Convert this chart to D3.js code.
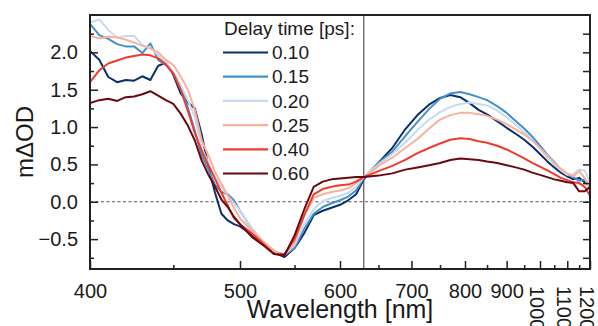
<!DOCTYPE html>
<html><head><meta charset="utf-8">
<script src="https://cdn.jsdelivr.net/npm/d3@7"></script>
<style>
body{margin:0;background:#fff}
svg{display:block}
text{font-family:Arial,"Liberation Sans",Helvetica,sans-serif;fill:#1a1a1a}
</style>
</head><body>
<svg id="chart" width="598" height="326"></svg>
<script>
// ---- data ----
const wavelengths = [400,405,410,415,420,425,430,435,440,445,450,455,460,465,470,475,480,485,490,495,500,
  510,520,530,540,550,560,570,580,590,600,610,620,630,640,650,
  670,690,710,730,750,770,790,810,830,850,
  875,900,925,950,975,1000,1025,1050,1075,1100,1125,1150,1175,1200];
const delays = ["0.10","0.15","0.20","0.25","0.40","0.60"];
const colors = ["#0b2f6b","#4490cb","#c6dbef","#fbb09a","#ee3b2c","#6a0812"];
const d010 = [2.02,1.90,1.67,1.60,1.63,1.62,1.68,1.63,1.82,1.86,1.70,1.45,1.33,1.25,0.90,0.47,0.12,-0.16,-0.25,-0.30,-0.33,
  -0.44,-0.57,-0.68,-0.74,-0.62,-0.42,-0.18,-0.12,-0.08,-0.04,0.02,0.10,0.30,0.42,0.52,
  0.72,0.97,1.16,1.30,1.39,1.43,1.40,1.32,1.23,1.17,
  1.08,0.99,0.91,0.83,0.74,0.64,0.54,0.46,0.39,0.34,0.30,0.32,0.26,0.22];
const d015 = [2.38,2.23,2.18,2.11,2.08,2.08,1.99,2.12,1.90,1.83,1.72,1.55,1.26,0.95,0.62,0.43,0.23,0.13,0.10,0.02,-0.12,
  -0.36,-0.55,-0.66,-0.71,-0.62,-0.36,-0.16,-0.07,-0.02,0.02,0.07,0.15,0.32,0.42,0.52,
  0.67,0.88,1.07,1.24,1.38,1.45,1.47,1.44,1.40,1.36,
  1.28,1.19,1.08,0.98,0.87,0.75,0.63,0.53,0.43,0.36,0.33,0.28,0.30,0.20];
const d020 = [2.40,2.44,2.30,2.20,2.22,2.22,2.10,2.06,1.96,1.87,1.73,1.56,1.36,1.14,0.72,0.52,0.33,0.20,0.08,-0.02,-0.12,
  -0.36,-0.53,-0.66,-0.71,-0.58,-0.30,-0.10,0.01,0.05,0.08,0.12,0.20,0.33,0.42,0.50,
  0.64,0.79,0.96,1.10,1.20,1.27,1.31,1.33,1.31,1.29,
  1.22,1.13,1.03,0.93,0.83,0.71,0.59,0.50,0.42,0.36,0.37,0.43,0.42,0.26];
const d025 = [2.22,2.19,2.21,2.20,2.17,2.13,2.09,2.05,2.00,1.90,1.83,1.68,1.50,1.23,0.82,0.62,0.40,0.24,0.08,-0.08,-0.22,
  -0.38,-0.53,-0.65,-0.71,-0.55,-0.18,0.05,0.10,0.13,0.15,0.18,0.25,0.33,0.40,0.48,
  0.59,0.72,0.84,0.98,1.10,1.16,1.19,1.19,1.17,1.15,
  1.10,1.04,0.97,0.90,0.82,0.72,0.62,0.52,0.44,0.38,0.34,0.41,0.32,0.18];
const d040 = [1.60,1.76,1.85,1.89,1.93,1.95,1.97,1.96,1.92,1.84,1.72,1.50,1.22,0.92,0.68,0.49,0.31,0.12,-0.05,-0.22,-0.30,
  -0.42,-0.56,-0.70,-0.70,-0.50,-0.18,0.10,0.17,0.20,0.22,0.23,0.27,0.33,0.37,0.41,
  0.48,0.56,0.65,0.72,0.78,0.83,0.85,0.84,0.81,0.79,
  0.75,0.70,0.64,0.58,0.52,0.47,0.42,0.37,0.32,0.29,0.26,0.25,0.20,0.08];
const d060 = [1.32,1.36,1.38,1.35,1.40,1.41,1.44,1.48,1.42,1.36,1.31,1.18,1.02,0.82,0.55,0.36,0.20,0.03,-0.07,-0.20,-0.30,
  -0.47,-0.58,-0.70,-0.72,-0.45,-0.10,0.20,0.27,0.30,0.31,0.32,0.33,0.33,0.34,0.35,
  0.38,0.43,0.46,0.49,0.52,0.56,0.58,0.57,0.56,0.54,
  0.52,0.49,0.46,0.43,0.39,0.36,0.33,0.30,0.28,0.26,0.25,0.14,0.14,0.20];
const seriesValues = [d010,d015,d020,d025,d040,d060];
const yMajorTicks = [-0.5,0,0.5,1,1.5,2];
const yMinorTicks = [-0.75,-0.25,0.25,0.75,1.25,1.75,2.25];
const xMajorTicks = [400,500,600,700,800,900,1000,1100,1200];
const xMinorTicks = [450,550,650,750,850,950,1050,1150];
const xRotatedLabels = [1000,1100,1200];
const markerWavelength = 630;
const legendTitle = "Delay time [ps]:";
const xTitle = "Wavelength [nm]";
const yTitle = "m\u0394OD";

// ---- layout ----
const L = 90, R = 590, T = 15, B = 269;
const svg = d3.select("#chart");

// energy-like axis: linear in 1/wavelength
const xE = d3.scaleLinear().domain([1/400, 1/1200]).range([L, R]);
const x = w => xE(1 / w);
const y = d3.scaleLinear().domain([-0.9, 2.5]).range([B, T]);

svg.append("clipPath").attr("id","clip").append("rect")
  .attr("x",L).attr("y",T).attr("width",R-L).attr("height",B-T);

// zero line
svg.append("line").attr("x1",L).attr("x2",R).attr("y1",y(0)).attr("y2",y(0))
  .attr("stroke","#555").attr("stroke-width",1).attr("stroke-dasharray","3,2.5");
// marker line
svg.append("line").attr("x1",x(markerWavelength)).attr("x2",x(markerWavelength))
  .attr("y1",T).attr("y2",B).attr("stroke","#333").attr("stroke-width",1);

// curves
const line = d3.line().x((d,i)=>x(wavelengths[i])).y(d=>y(d)).curve(d3.curveLinear);
const g = svg.append("g").attr("clip-path","url(#clip)");
seriesValues.forEach((vals,k)=>{
  g.append("path").datum(vals).attr("d",line).attr("fill","none")
    .attr("stroke",colors[k]).attr("stroke-width",2).attr("stroke-linejoin","round");
});

// axes
const tickFont = "20px";
const yAx = svg.append("g").attr("transform",`translate(${L},0)`)
  .call(d3.axisLeft(y).tickValues(yMajorTicks).tickSize(-8).tickPadding(12).tickFormat(d3.format(".1f")));
const yAxMin = svg.append("g").attr("transform",`translate(${L},0)`)
  .call(d3.axisLeft(y).tickValues(yMinorTicks).tickSize(-4).tickFormat(""));
const yAxR = svg.append("g").attr("transform",`translate(${R},0)`)
  .call(d3.axisRight(y).tickValues(yMajorTicks.concat(yMinorTicks)).tickSize(-7).tickFormat(""));
const xAx = svg.append("g").attr("transform",`translate(0,${B})`)
  .call(d3.axisBottom(xE).tickValues(xMajorTicks.map(w=>1/w)).tickSize(-8).tickPadding(15)
    .tickFormat(v=>String(Math.round(1/v))));
const xAxMin = svg.append("g").attr("transform",`translate(0,${B})`)
  .call(d3.axisBottom(xE).tickValues(xMinorTicks.map(w=>1/w)).tickSize(-4).tickFormat(""));

[yAx,yAxMin,yAxR,xAx,xAxMin].forEach(a=>{
  a.select(".domain").remove();
  a.selectAll(".tick line").attr("stroke","#222").attr("stroke-width",1.5);
  a.selectAll("text").style("font-size",tickFont).attr("fill","#1a1a1a").style("font-family","Arial, 'Liberation Sans', sans-serif");
});
xAx.selectAll(".tick text").filter(v=>xRotatedLabels.includes(Math.round(1/v)))
  .attr("transform","rotate(90)").attr("text-anchor","start")
  .attr("x",17).attr("y",4).attr("dy","0.35em");

// frame
svg.append("rect").attr("x",L).attr("y",T).attr("width",R-L).attr("height",B-T)
  .attr("fill","none").attr("stroke","#222").attr("stroke-width",2);

// titles
svg.append("text").attr("x",(L+R)/2).attr("y",318).attr("text-anchor","middle")
  .style("font-size","25px").text(xTitle);
svg.append("text").attr("transform",`translate(33,${(T+B)/2}) rotate(-90)`).attr("text-anchor","middle")
  .style("font-size","24px").text(yTitle);

// legend
svg.append("text").attr("x",224).attr("y",35).style("font-size","19px").text(legendTitle);
const lg = svg.append("g");
delays.forEach((d,k)=>{
  const yy = 52.5 + k*24.2;
  lg.append("line").attr("x1",223).attr("x2",268).attr("y1",yy).attr("y2",yy)
    .attr("stroke",colors[k]).attr("stroke-width",2.2);
  lg.append("text").attr("x",272).attr("y",yy).attr("dy","0.35em").style("font-size","19px").text(d);
});
</script>
</body></html>
